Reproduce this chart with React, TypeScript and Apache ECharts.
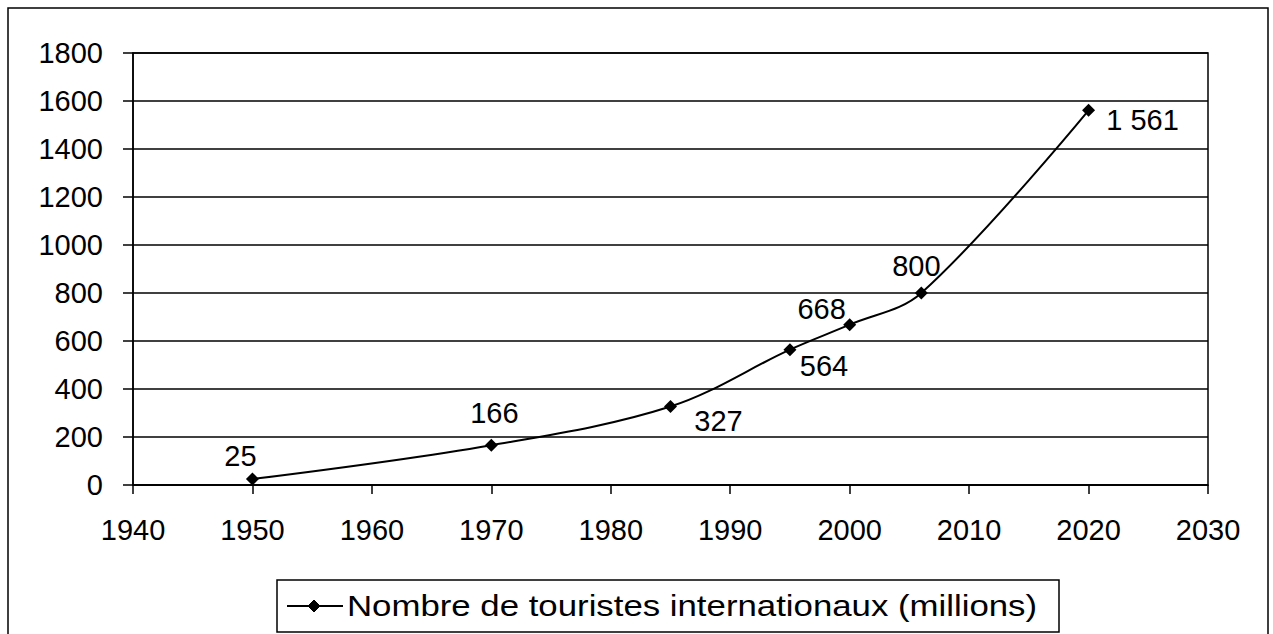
import React, { useEffect, useRef } from "react";
import * as echarts from "echarts";

const years = [1950, 1970, 1985, 1995, 2000, 2006, 2020];
const tourists = [25, 166, 327, 564, 668, 800, 1561];
const labelTexts = ["25", "166", "327", "564", "668", "800", "1 561"];
const labelOffsets: [number, number][] = [
  [-12, -23],
  [3, -32],
  [48, 14],
  [34, 16],
  [-28, -16],
  [-5, -27],
  [54, 10],
];
const seriesName = "Nombre de touristes internationaux (millions)";

const FONT = "'Liberation Sans', Arial, sans-serif";
const FS = 29;

export default function App() {
  const ref = useRef<HTMLDivElement>(null);
  useEffect(() => {
    if (!ref.current) return;
    const chart = echarts.init(ref.current, null, { renderer: "svg" });
    const data = years.map((y, i) => ({
      value: [y, tourists[i]],
      label: {
        show: true,
        position: "inside",
        offset: labelOffsets[i],
        formatter: labelTexts[i],
      },
    }));
    const ly = 606;
    chart.setOption({
      animation: false,
      backgroundColor: "#fff",
      textStyle: { fontFamily: FONT, color: "#000" },
      graphic: [
        {
          type: "rect",
          shape: { x: 8, y: 8, width: 1260, height: 640 },
          style: { fill: "none", stroke: "#000", lineWidth: 1.5 },
          silent: true,
          z: -1,
        },
        {
          type: "rect",
          shape: { x: 277, y: 580, width: 782, height: 52 },
          style: { fill: "#fff", stroke: "#000", lineWidth: 1.5 },
          silent: true,
        },
        {
          type: "line",
          shape: { x1: 287, y1: ly, x2: 343, y2: ly },
          style: { stroke: "#000", lineWidth: 2 },
          silent: true,
        },
        {
          type: "polygon",
          shape: { points: [[314, ly - 6], [320, ly], [314, ly + 6], [308, ly]] },
          style: { fill: "#000", stroke: "#000" },
          silent: true,
        },
        {
          type: "text",
          x: 347,
          y: ly,
          scaleX: 1.16,
          style: {
            text: seriesName,
            x: 0,
            y: 0,
            fill: "#000",
            font: `30px ${FONT}`,
            verticalAlign: "middle",
            align: "left",
          },
          silent: true,
        },
      ],
      grid: {
        left: 133,
        right: 65,
        top: 53,
        bottom: 149,
        show: true,
        borderColor: "#000",
        borderWidth: 1.5,
      },
      legend: { show: false },
      xAxis: {
        type: "value",
        min: 1940,
        max: 2030,
        interval: 10,
        axisLine: { show: true, lineStyle: { color: "#000", width: 1.5 } },
        axisTick: { show: true, length: 9, inside: false, lineStyle: { color: "#000", width: 1.5 } },
        axisLabel: {
          color: "#000",
          fontSize: FS,
          fontFamily: FONT,
          margin: 30,
          formatter: (v: number) => String(v),
        },
        splitLine: { show: false },
      },
      yAxis: {
        type: "value",
        min: 0,
        max: 1800,
        interval: 200,
        axisLine: { show: true, lineStyle: { color: "#000", width: 1.5 } },
        axisTick: { show: true, length: 10, inside: false, lineStyle: { color: "#000", width: 1.5 } },
        axisLabel: {
          color: "#000",
          fontSize: FS,
          fontFamily: FONT,
          margin: 30,
          formatter: (v: number) => String(v),
        },
        splitLine: { show: true, lineStyle: { color: "#000", width: 1.5 } },
      },
      series: [
        {
          name: seriesName,
          type: "line",
          smooth: 0.35,
          symbol: "diamond",
          symbolSize: 13,
          itemStyle: { color: "#000" },
          lineStyle: { color: "#000", width: 2 },
          label: {
            color: "#000",
            fontSize: FS,
            fontFamily: FONT,
          },
          data,
        },
      ],
    });
    return () => chart.dispose();
  }, []);
  return (
    <div
      ref={ref}
      style={{ position: "fixed", left: 0, top: 0, width: 1273, height: 634, background: "#fff" }}
    />
  );
}
